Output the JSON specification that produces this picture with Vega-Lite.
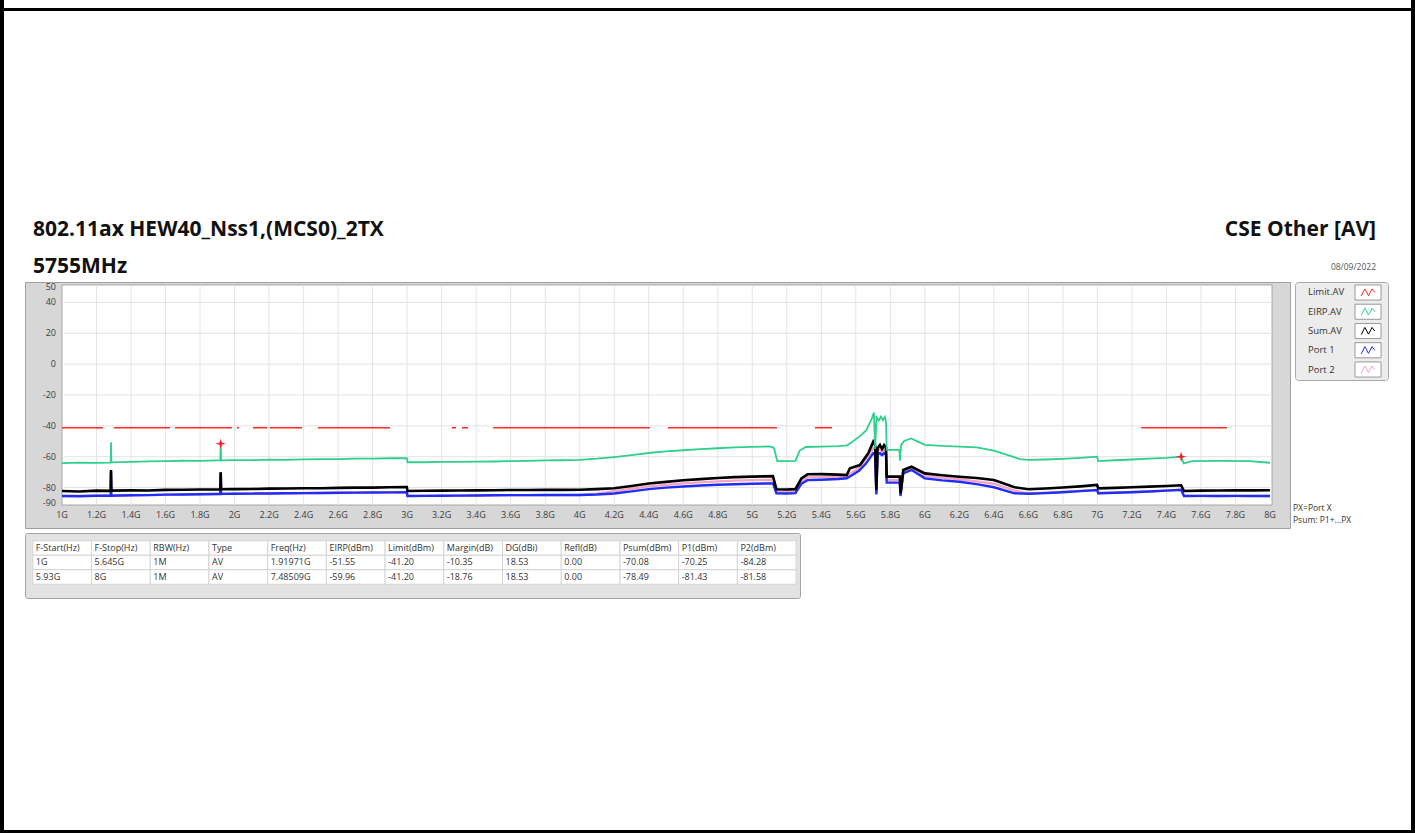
{
 "$schema": "https://vega.github.io/schema/vega-lite/v6.json",
 "background": "white",
 "padding": 0,
 "config": {
  "view": {"stroke": null},
  "font": "Open Sans",
  "axis": {"labelFont": "Open Sans", "labelFontSize": 9, "labelColor": "#3c3c3c", "tickColor": "#6e6e6e", "tickSize": 4, "grid": false, "domain": false, "labels": false},
  "title": {"font": "Open Sans", "color": "#111111"},
  "text": {"font": "Open Sans"}
 },
 "datasets": {
  "spec": [
   {"s":"Port 2","f":1.0,"v":-85.5},{"s":"Port 2","f":1.5,"v":-84.9},{"s":"Port 2","f":2.0,"v":-84.0},{"s":"Port 2","f":2.5,"v":-83.5},{"s":"Port 2","f":2.998,"v":-83.0},{"s":"Port 2","f":3.002,"v":-85.5},{"s":"Port 2","f":3.5,"v":-85.0},{"s":"Port 2","f":4.0,"v":-84.8},{"s":"Port 2","f":4.1,"v":-84.0},{"s":"Port 2","f":4.2,"v":-82.4},{"s":"Port 2","f":4.3,"v":-80.8},{"s":"Port 2","f":4.4,"v":-79.2},{"s":"Port 2","f":4.5,"v":-78.3},{"s":"Port 2","f":4.6,"v":-77.3},{"s":"Port 2","f":4.7,"v":-76.6},{"s":"Port 2","f":4.8,"v":-76.0},{"s":"Port 2","f":4.9,"v":-75.5},{"s":"Port 2","f":5.0,"v":-75.2},{"s":"Port 2","f":5.12,"v":-74.9},{"s":"Port 2","f":5.14,"v":-82.5},{"s":"Port 2","f":5.25,"v":-82.4},{"s":"Port 2","f":5.285,"v":-75.8},{"s":"Port 2","f":5.32,"v":-73.4},{"s":"Port 2","f":5.4,"v":-73.2},{"s":"Port 2","f":5.5,"v":-73.0},{"s":"Port 2","f":5.547,"v":-72.9},{"s":"Port 2","f":5.58,"v":-70.0},{"s":"Port 2","f":5.62,"v":-67.0},{"s":"Port 2","f":5.66,"v":-61.5},{"s":"Port 2","f":5.7,"v":-54.5},{"s":"Port 2","f":5.712,"v":-56.0},{"s":"Port 2","f":5.719,"v":-83.0},{"s":"Port 2","f":5.726,"v":-56.0},{"s":"Port 2","f":5.74,"v":-55.0},{"s":"Port 2","f":5.752,"v":-57.0},{"s":"Port 2","f":5.764,"v":-55.0},{"s":"Port 2","f":5.775,"v":-56.5},{"s":"Port 2","f":5.779,"v":-75.0},{"s":"Port 2","f":5.855,"v":-75.0},{"s":"Port 2","f":5.859,"v":-84.5},{"s":"Port 2","f":5.875,"v":-69.8},{"s":"Port 2","f":5.923,"v":-67.6},{"s":"Port 2","f":6.0,"v":-72.5},{"s":"Port 2","f":6.1,"v":-73.7},{"s":"Port 2","f":6.2,"v":-74.6},{"s":"Port 2","f":6.3,"v":-76.0},{"s":"Port 2","f":6.4,"v":-77.5},{"s":"Port 2","f":6.52,"v":-82.0},{"s":"Port 2","f":6.6,"v":-83.8},{"s":"Port 2","f":7.0,"v":-81.6},{"s":"Port 2","f":7.005,"v":-83.7},{"s":"Port 2","f":7.485,"v":-81.58},{"s":"Port 2","f":7.502,"v":-85.5},{"s":"Port 2","f":8.0,"v":-85.5},

   {"s":"Port 1","f":1.0,"v":-85.5},{"s":"Port 1","f":1.1,"v":-85.6},{"s":"Port 1","f":1.2,"v":-85.3},{"s":"Port 1","f":1.282,"v":-85.3},{"s":"Port 1","f":1.284,"v":-70.0},{"s":"Port 1","f":1.286,"v":-85.3},{"s":"Port 1","f":1.4,"v":-85.0},{"s":"Port 1","f":1.5,"v":-84.9},{"s":"Port 1","f":1.6,"v":-84.6},{"s":"Port 1","f":1.7,"v":-84.5},{"s":"Port 1","f":1.8,"v":-84.3},{"s":"Port 1","f":1.9,"v":-84.2},{"s":"Port 1","f":1.917,"v":-84.2},{"s":"Port 1","f":1.91971,"v":-70.25},{"s":"Port 1","f":1.922,"v":-84.1},{"s":"Port 1","f":2.0,"v":-84.0},{"s":"Port 1","f":2.1,"v":-83.9},{"s":"Port 1","f":2.2,"v":-83.8},{"s":"Port 1","f":2.3,"v":-83.7},{"s":"Port 1","f":2.4,"v":-83.6},{"s":"Port 1","f":2.5,"v":-83.5},{"s":"Port 1","f":2.6,"v":-83.4},{"s":"Port 1","f":2.7,"v":-83.3},{"s":"Port 1","f":2.8,"v":-83.2},{"s":"Port 1","f":2.9,"v":-83.1},{"s":"Port 1","f":2.998,"v":-83.0},{"s":"Port 1","f":3.002,"v":-85.5},{"s":"Port 1","f":3.1,"v":-85.4},{"s":"Port 1","f":3.2,"v":-85.3},{"s":"Port 1","f":3.3,"v":-85.2},{"s":"Port 1","f":3.4,"v":-85.1},{"s":"Port 1","f":3.5,"v":-85.0},{"s":"Port 1","f":3.6,"v":-84.9},{"s":"Port 1","f":3.7,"v":-84.9},{"s":"Port 1","f":3.8,"v":-84.8},{"s":"Port 1","f":3.9,"v":-84.8},{"s":"Port 1","f":4.0,"v":-84.8},{"s":"Port 1","f":4.1,"v":-84.5},{"s":"Port 1","f":4.2,"v":-83.8},{"s":"Port 1","f":4.3,"v":-82.5},{"s":"Port 1","f":4.4,"v":-81.0},{"s":"Port 1","f":4.5,"v":-80.0},{"s":"Port 1","f":4.6,"v":-79.3},{"s":"Port 1","f":4.7,"v":-78.7},{"s":"Port 1","f":4.8,"v":-78.2},{"s":"Port 1","f":4.9,"v":-77.8},{"s":"Port 1","f":5.0,"v":-77.5},{"s":"Port 1","f":5.12,"v":-77.3},{"s":"Port 1","f":5.14,"v":-83.7},{"s":"Port 1","f":5.2,"v":-83.8},{"s":"Port 1","f":5.25,"v":-83.6},{"s":"Port 1","f":5.285,"v":-77.5},{"s":"Port 1","f":5.32,"v":-75.2},{"s":"Port 1","f":5.4,"v":-74.9},{"s":"Port 1","f":5.5,"v":-74.4},{"s":"Port 1","f":5.547,"v":-74.0},{"s":"Port 1","f":5.58,"v":-71.9},{"s":"Port 1","f":5.62,"v":-69.0},{"s":"Port 1","f":5.66,"v":-64.3},{"s":"Port 1","f":5.7,"v":-57.8},{"s":"Port 1","f":5.712,"v":-59.0},{"s":"Port 1","f":5.719,"v":-84.5},{"s":"Port 1","f":5.726,"v":-58.0},{"s":"Port 1","f":5.74,"v":-57.8},{"s":"Port 1","f":5.752,"v":-59.0},{"s":"Port 1","f":5.764,"v":-57.8},{"s":"Port 1","f":5.775,"v":-58.5},{"s":"Port 1","f":5.779,"v":-76.8},{"s":"Port 1","f":5.82,"v":-76.8},{"s":"Port 1","f":5.855,"v":-76.8},{"s":"Port 1","f":5.859,"v":-85.5},{"s":"Port 1","f":5.875,"v":-70.8},{"s":"Port 1","f":5.923,"v":-68.6},{"s":"Port 1","f":6.0,"v":-74.0},{"s":"Port 1","f":6.1,"v":-75.3},{"s":"Port 1","f":6.2,"v":-76.2},{"s":"Port 1","f":6.3,"v":-77.8},{"s":"Port 1","f":6.4,"v":-79.8},{"s":"Port 1","f":6.52,"v":-83.7},{"s":"Port 1","f":6.6,"v":-84.0},{"s":"Port 1","f":6.7,"v":-83.6},{"s":"Port 1","f":6.8,"v":-83.0},{"s":"Port 1","f":6.9,"v":-82.3},{"s":"Port 1","f":6.998,"v":-81.6},{"s":"Port 1","f":7.005,"v":-83.7},{"s":"Port 1","f":7.1,"v":-83.4},{"s":"Port 1","f":7.2,"v":-83.0},{"s":"Port 1","f":7.3,"v":-82.5},{"s":"Port 1","f":7.4,"v":-82.0},{"s":"Port 1","f":7.485,"v":-81.43},{"s":"Port 1","f":7.502,"v":-85.5},{"s":"Port 1","f":7.6,"v":-85.4},{"s":"Port 1","f":7.7,"v":-85.5},{"s":"Port 1","f":7.8,"v":-85.4},{"s":"Port 1","f":7.9,"v":-85.5},{"s":"Port 1","f":8.0,"v":-85.5},

   {"s":"Sum.AV","f":1.0,"v":-82.2},{"s":"Sum.AV","f":1.1,"v":-82.5},{"s":"Sum.AV","f":1.2,"v":-82.0},{"s":"Sum.AV","f":1.282,"v":-82.1},{"s":"Sum.AV","f":1.284,"v":-68.6},{"s":"Sum.AV","f":1.286,"v":-82.0},{"s":"Sum.AV","f":1.4,"v":-81.8},{"s":"Sum.AV","f":1.5,"v":-81.9},{"s":"Sum.AV","f":1.6,"v":-81.5},{"s":"Sum.AV","f":1.7,"v":-81.4},{"s":"Sum.AV","f":1.8,"v":-81.2},{"s":"Sum.AV","f":1.9,"v":-81.2},{"s":"Sum.AV","f":1.917,"v":-81.2},{"s":"Sum.AV","f":1.91971,"v":-70.08},{"s":"Sum.AV","f":1.922,"v":-81.1},{"s":"Sum.AV","f":2.0,"v":-81.0},{"s":"Sum.AV","f":2.1,"v":-80.9},{"s":"Sum.AV","f":2.2,"v":-80.7},{"s":"Sum.AV","f":2.3,"v":-80.6},{"s":"Sum.AV","f":2.4,"v":-80.4},{"s":"Sum.AV","f":2.5,"v":-80.4},{"s":"Sum.AV","f":2.6,"v":-80.2},{"s":"Sum.AV","f":2.7,"v":-80.0},{"s":"Sum.AV","f":2.8,"v":-80.0},{"s":"Sum.AV","f":2.9,"v":-79.8},{"s":"Sum.AV","f":2.998,"v":-79.7},{"s":"Sum.AV","f":3.002,"v":-82.2},{"s":"Sum.AV","f":3.1,"v":-82.1},{"s":"Sum.AV","f":3.2,"v":-82.0},{"s":"Sum.AV","f":3.3,"v":-81.9},{"s":"Sum.AV","f":3.4,"v":-81.8},{"s":"Sum.AV","f":3.5,"v":-81.7},{"s":"Sum.AV","f":3.6,"v":-81.6},{"s":"Sum.AV","f":3.7,"v":-81.6},{"s":"Sum.AV","f":3.8,"v":-81.5},{"s":"Sum.AV","f":3.9,"v":-81.5},{"s":"Sum.AV","f":4.0,"v":-81.4},{"s":"Sum.AV","f":4.1,"v":-81.0},{"s":"Sum.AV","f":4.2,"v":-80.4},{"s":"Sum.AV","f":4.3,"v":-79.0},{"s":"Sum.AV","f":4.4,"v":-77.4},{"s":"Sum.AV","f":4.5,"v":-76.3},{"s":"Sum.AV","f":4.6,"v":-75.3},{"s":"Sum.AV","f":4.7,"v":-74.5},{"s":"Sum.AV","f":4.8,"v":-73.8},{"s":"Sum.AV","f":4.9,"v":-73.2},{"s":"Sum.AV","f":5.0,"v":-72.9},{"s":"Sum.AV","f":5.12,"v":-72.6},{"s":"Sum.AV","f":5.14,"v":-81.1},{"s":"Sum.AV","f":5.2,"v":-81.2},{"s":"Sum.AV","f":5.25,"v":-81.0},{"s":"Sum.AV","f":5.285,"v":-74.0},{"s":"Sum.AV","f":5.32,"v":-71.4},{"s":"Sum.AV","f":5.4,"v":-71.3},{"s":"Sum.AV","f":5.5,"v":-71.6},{"s":"Sum.AV","f":5.547,"v":-71.9},{"s":"Sum.AV","f":5.566,"v":-67.5},{"s":"Sum.AV","f":5.624,"v":-65.4},{"s":"Sum.AV","f":5.672,"v":-57.8},{"s":"Sum.AV","f":5.701,"v":-50.3},{"s":"Sum.AV","f":5.712,"v":-52.5},{"s":"Sum.AV","f":5.719,"v":-81.6},{"s":"Sum.AV","f":5.726,"v":-54.5},{"s":"Sum.AV","f":5.74,"v":-52.4},{"s":"Sum.AV","f":5.752,"v":-55.0},{"s":"Sum.AV","f":5.764,"v":-52.5},{"s":"Sum.AV","f":5.775,"v":-54.0},{"s":"Sum.AV","f":5.779,"v":-72.9},{"s":"Sum.AV","f":5.82,"v":-72.9},{"s":"Sum.AV","f":5.855,"v":-72.9},{"s":"Sum.AV","f":5.859,"v":-83.7},{"s":"Sum.AV","f":5.875,"v":-68.6},{"s":"Sum.AV","f":5.923,"v":-66.5},{"s":"Sum.AV","f":6.0,"v":-70.8},{"s":"Sum.AV","f":6.1,"v":-72.0},{"s":"Sum.AV","f":6.2,"v":-73.0},{"s":"Sum.AV","f":6.3,"v":-73.8},{"s":"Sum.AV","f":6.4,"v":-75.1},{"s":"Sum.AV","f":6.52,"v":-79.8},{"s":"Sum.AV","f":6.6,"v":-81.1},{"s":"Sum.AV","f":6.7,"v":-80.6},{"s":"Sum.AV","f":6.8,"v":-80.0},{"s":"Sum.AV","f":6.9,"v":-79.2},{"s":"Sum.AV","f":6.998,"v":-78.3},{"s":"Sum.AV","f":7.005,"v":-80.5},{"s":"Sum.AV","f":7.1,"v":-80.2},{"s":"Sum.AV","f":7.2,"v":-79.8},{"s":"Sum.AV","f":7.3,"v":-79.4},{"s":"Sum.AV","f":7.4,"v":-79.0},{"s":"Sum.AV","f":7.485,"v":-78.49},{"s":"Sum.AV","f":7.502,"v":-82.2},{"s":"Sum.AV","f":7.6,"v":-82.0},{"s":"Sum.AV","f":7.7,"v":-81.9},{"s":"Sum.AV","f":7.8,"v":-81.8},{"s":"Sum.AV","f":7.9,"v":-81.8},{"s":"Sum.AV","f":8.0,"v":-81.7},

   {"s":"EIRP.AV","f":1.0,"v":-64.1},{"s":"EIRP.AV","f":1.1,"v":-63.8},{"s":"EIRP.AV","f":1.2,"v":-64.0},{"s":"EIRP.AV","f":1.282,"v":-63.8},{"s":"EIRP.AV","f":1.284,"v":-50.6},{"s":"EIRP.AV","f":1.286,"v":-63.7},{"s":"EIRP.AV","f":1.4,"v":-63.3},{"s":"EIRP.AV","f":1.5,"v":-63.0},{"s":"EIRP.AV","f":1.6,"v":-62.9},{"s":"EIRP.AV","f":1.7,"v":-62.6},{"s":"EIRP.AV","f":1.8,"v":-62.7},{"s":"EIRP.AV","f":1.9,"v":-62.4},{"s":"EIRP.AV","f":1.917,"v":-62.4},{"s":"EIRP.AV","f":1.91971,"v":-51.55},{"s":"EIRP.AV","f":1.922,"v":-62.4},{"s":"EIRP.AV","f":2.0,"v":-62.2},{"s":"EIRP.AV","f":2.1,"v":-62.2},{"s":"EIRP.AV","f":2.2,"v":-61.9},{"s":"EIRP.AV","f":2.3,"v":-62.0},{"s":"EIRP.AV","f":2.4,"v":-61.7},{"s":"EIRP.AV","f":2.5,"v":-61.6},{"s":"EIRP.AV","f":2.6,"v":-61.6},{"s":"EIRP.AV","f":2.7,"v":-61.3},{"s":"EIRP.AV","f":2.8,"v":-61.3},{"s":"EIRP.AV","f":2.9,"v":-61.0},{"s":"EIRP.AV","f":2.998,"v":-60.9},{"s":"EIRP.AV","f":3.002,"v":-63.6},{"s":"EIRP.AV","f":3.1,"v":-63.6},{"s":"EIRP.AV","f":3.2,"v":-63.4},{"s":"EIRP.AV","f":3.3,"v":-63.4},{"s":"EIRP.AV","f":3.4,"v":-63.2},{"s":"EIRP.AV","f":3.5,"v":-63.1},{"s":"EIRP.AV","f":3.6,"v":-62.8},{"s":"EIRP.AV","f":3.7,"v":-62.7},{"s":"EIRP.AV","f":3.8,"v":-62.4},{"s":"EIRP.AV","f":3.9,"v":-62.3},{"s":"EIRP.AV","f":4.0,"v":-62.0},{"s":"EIRP.AV","f":4.1,"v":-61.3},{"s":"EIRP.AV","f":4.2,"v":-60.2},{"s":"EIRP.AV","f":4.3,"v":-58.9},{"s":"EIRP.AV","f":4.4,"v":-57.6},{"s":"EIRP.AV","f":4.5,"v":-56.6},{"s":"EIRP.AV","f":4.6,"v":-55.8},{"s":"EIRP.AV","f":4.7,"v":-55.1},{"s":"EIRP.AV","f":4.8,"v":-54.5},{"s":"EIRP.AV","f":4.9,"v":-54.0},{"s":"EIRP.AV","f":5.0,"v":-53.6},{"s":"EIRP.AV","f":5.1,"v":-53.3},{"s":"EIRP.AV","f":5.125,"v":-54.2},{"s":"EIRP.AV","f":5.145,"v":-62.8},{"s":"EIRP.AV","f":5.2,"v":-62.9},{"s":"EIRP.AV","f":5.25,"v":-62.7},{"s":"EIRP.AV","f":5.275,"v":-56.0},{"s":"EIRP.AV","f":5.31,"v":-53.7},{"s":"EIRP.AV","f":5.4,"v":-53.5},{"s":"EIRP.AV","f":5.5,"v":-53.2},{"s":"EIRP.AV","f":5.55,"v":-52.6},{"s":"EIRP.AV","f":5.58,"v":-50.3},{"s":"EIRP.AV","f":5.62,"v":-47.0},{"s":"EIRP.AV","f":5.66,"v":-43.0},{"s":"EIRP.AV","f":5.69,"v":-36.0},{"s":"EIRP.AV","f":5.705,"v":-31.4},{"s":"EIRP.AV","f":5.712,"v":-55.0},{"s":"EIRP.AV","f":5.72,"v":-34.5},{"s":"EIRP.AV","f":5.733,"v":-36.5},{"s":"EIRP.AV","f":5.745,"v":-34.0},{"s":"EIRP.AV","f":5.757,"v":-36.5},{"s":"EIRP.AV","f":5.768,"v":-34.2},{"s":"EIRP.AV","f":5.775,"v":-37.0},{"s":"EIRP.AV","f":5.779,"v":-55.6},{"s":"EIRP.AV","f":5.82,"v":-55.6},{"s":"EIRP.AV","f":5.852,"v":-55.5},{"s":"EIRP.AV","f":5.856,"v":-62.5},{"s":"EIRP.AV","f":5.862,"v":-52.5},{"s":"EIRP.AV","f":5.88,"v":-49.8},{"s":"EIRP.AV","f":5.92,"v":-48.1},{"s":"EIRP.AV","f":5.96,"v":-50.2},{"s":"EIRP.AV","f":6.0,"v":-52.3},{"s":"EIRP.AV","f":6.1,"v":-53.0},{"s":"EIRP.AV","f":6.2,"v":-53.4},{"s":"EIRP.AV","f":6.3,"v":-54.0},{"s":"EIRP.AV","f":6.4,"v":-56.1},{"s":"EIRP.AV","f":6.5,"v":-59.6},{"s":"EIRP.AV","f":6.55,"v":-61.5},{"s":"EIRP.AV","f":6.6,"v":-62.0},{"s":"EIRP.AV","f":6.7,"v":-61.8},{"s":"EIRP.AV","f":6.8,"v":-61.4},{"s":"EIRP.AV","f":6.9,"v":-60.8},{"s":"EIRP.AV","f":6.998,"v":-60.0},{"s":"EIRP.AV","f":7.005,"v":-62.8},{"s":"EIRP.AV","f":7.1,"v":-62.3},{"s":"EIRP.AV","f":7.2,"v":-61.8},{"s":"EIRP.AV","f":7.3,"v":-61.3},{"s":"EIRP.AV","f":7.4,"v":-60.8},{"s":"EIRP.AV","f":7.485,"v":-59.96},{"s":"EIRP.AV","f":7.5,"v":-64.3},{"s":"EIRP.AV","f":7.55,"v":-62.9},{"s":"EIRP.AV","f":7.7,"v":-62.7},{"s":"EIRP.AV","f":7.88,"v":-62.8},{"s":"EIRP.AV","f":8.0,"v":-63.9}
  ],
  "lim": [
   {"seg":1,"f":1.0,"v":-41.2},{"seg":1,"f":1.238,"v":-41.2},
   {"seg":2,"f":1.301,"v":-41.2},{"seg":2,"f":1.626,"v":-41.2},
   {"seg":3,"f":1.655,"v":-41.2},{"seg":3,"f":1.985,"v":-41.2},
   {"seg":4,"f":2.014,"v":-41.2},{"seg":4,"f":2.026,"v":-41.2},
   {"seg":5,"f":2.107,"v":-41.2},{"seg":5,"f":2.188,"v":-41.2},
   {"seg":6,"f":2.205,"v":-41.2},{"seg":6,"f":2.391,"v":-41.2},
   {"seg":7,"f":2.483,"v":-41.2},{"seg":7,"f":2.901,"v":-41.2},
   {"seg":8,"f":3.26,"v":-41.2},{"seg":8,"f":3.283,"v":-41.2},
   {"seg":9,"f":3.318,"v":-41.2},{"seg":9,"f":3.353,"v":-41.2},
   {"seg":10,"f":3.498,"v":-41.2},{"seg":10,"f":4.407,"v":-41.2},
   {"seg":11,"f":4.512,"v":-41.2},{"seg":11,"f":5.143,"v":-41.2},
   {"seg":12,"f":5.363,"v":-41.2},{"seg":12,"f":5.462,"v":-41.2},
   {"seg":13,"f":7.253,"v":-41.2},{"seg":13,"f":7.751,"v":-41.2}
  ],
  "mk": [{"f":1.91971,"v":-51.55},{"f":7.48509,"v":-59.96}],
  "gx": [{"g":1.2},{"g":1.4},{"g":1.6},{"g":1.8},{"g":2},{"g":2.2},{"g":2.4},{"g":2.6},{"g":2.8},{"g":3},{"g":3.2},{"g":3.4},{"g":3.6},{"g":3.8},{"g":4},{"g":4.2},{"g":4.4},{"g":4.6},{"g":4.8},{"g":5},{"g":5.2},{"g":5.4},{"g":5.6},{"g":5.8},{"g":6},{"g":6.2},{"g":6.4},{"g":6.6},{"g":6.8},{"g":7},{"g":7.2},{"g":7.4},{"g":7.6},{"g":7.8}],
  "gy": [{"g":40},{"g":20},{"g":0},{"g":-20},{"g":-40},{"g":-60},{"g":-80}],
  "xl": [{"g":1,"l":"1G"},{"g":1.2,"l":"1.2G"},{"g":1.4,"l":"1.4G"},{"g":1.6,"l":"1.6G"},{"g":1.8,"l":"1.8G"},{"g":2,"l":"2G"},{"g":2.2,"l":"2.2G"},{"g":2.4,"l":"2.4G"},{"g":2.6,"l":"2.6G"},{"g":2.8,"l":"2.8G"},{"g":3,"l":"3G"},{"g":3.2,"l":"3.2G"},{"g":3.4,"l":"3.4G"},{"g":3.6,"l":"3.6G"},{"g":3.8,"l":"3.8G"},{"g":4,"l":"4G"},{"g":4.2,"l":"4.2G"},{"g":4.4,"l":"4.4G"},{"g":4.6,"l":"4.6G"},{"g":4.8,"l":"4.8G"},{"g":5,"l":"5G"},{"g":5.2,"l":"5.2G"},{"g":5.4,"l":"5.4G"},{"g":5.6,"l":"5.6G"},{"g":5.8,"l":"5.8G"},{"g":6,"l":"6G"},{"g":6.2,"l":"6.2G"},{"g":6.4,"l":"6.4G"},{"g":6.6,"l":"6.6G"},{"g":6.8,"l":"6.8G"},{"g":7,"l":"7G"},{"g":7.2,"l":"7.2G"},{"g":7.4,"l":"7.4G"},{"g":7.6,"l":"7.6G"},{"g":7.8,"l":"7.8G"},{"g":8,"l":"8G"}],
  "yl": [{"g":50,"l":"50"},{"g":40,"l":"40"},{"g":20,"l":"20"},{"g":0,"l":"0"},{"g":-20,"l":"-20"},{"g":-40,"l":"-40"},{"g":-60,"l":"-60"},{"g":-80,"l":"-80"},{"g":-90,"l":"-90"}],
  "leg": [{"name":"Limit.AV"},{"name":"EIRP.AV"},{"name":"Sum.AV"},{"name":"Port 1"},{"name":"Port 2"}],
  "foot": [{"t":"PX=Port X"},{"t":"Psum: P1+...PX"}],
  "tbl": [
   {"r":0,"c":1,"t":"F-Start(Hz)"},{"r":0,"c":2,"t":"F-Stop(Hz)"},{"r":0,"c":3,"t":"RBW(Hz)"},{"r":0,"c":4,"t":"Type"},{"r":0,"c":5,"t":"Freq(Hz)"},{"r":0,"c":6,"t":"EIRP(dBm)"},{"r":0,"c":7,"t":"Limit(dBm)"},{"r":0,"c":8,"t":"Margin(dB)"},{"r":0,"c":9,"t":"DG(dBi)"},{"r":0,"c":10,"t":"Refl(dB)"},{"r":0,"c":11,"t":"Psum(dBm)"},{"r":0,"c":12,"t":"P1(dBm)"},{"r":0,"c":13,"t":"P2(dBm)"},
   {"r":1,"c":1,"t":"1G"},{"r":1,"c":2,"t":"5.645G"},{"r":1,"c":3,"t":"1M"},{"r":1,"c":4,"t":"AV"},{"r":1,"c":5,"t":"1.91971G"},{"r":1,"c":6,"t":"-51.55"},{"r":1,"c":7,"t":"-41.20"},{"r":1,"c":8,"t":"-10.35"},{"r":1,"c":9,"t":"18.53"},{"r":1,"c":10,"t":"0.00"},{"r":1,"c":11,"t":"-70.08"},{"r":1,"c":12,"t":"-70.25"},{"r":1,"c":13,"t":"-84.28"},
   {"r":2,"c":1,"t":"5.93G"},{"r":2,"c":2,"t":"8G"},{"r":2,"c":3,"t":"1M"},{"r":2,"c":4,"t":"AV"},{"r":2,"c":5,"t":"7.48509G"},{"r":2,"c":6,"t":"-59.96"},{"r":2,"c":7,"t":"-41.20"},{"r":2,"c":8,"t":"-18.76"},{"r":2,"c":9,"t":"18.53"},{"r":2,"c":10,"t":"0.00"},{"r":2,"c":11,"t":"-78.49"},{"r":2,"c":12,"t":"-81.43"},{"r":2,"c":13,"t":"-81.58"}
  ]
 },
 "bounds": "full",
 "spacing": 0,
 "hconcat": [
  {"width": 4, "height": 833, "view": {"fill": "black"}, "data": {"values": []}, "mark": "point"},
  {"bounds": "full", "spacing": 0, "vconcat": [
    {"width": 1407, "height": 8, "data": {"values": []}, "mark": "point"},
    {"width": 1407, "height": 3, "view": {"fill": "black"}, "data": {"values": []}, "mark": "point"},
    {"width": 1407, "height": 207, "data": {"values": []}, "mark": "point"},
    {"bounds": "flush", "spacing": 0, "hconcat": [
      {"width": 21, "height": 246, "data": {"values": []}, "mark": "point"},
      {"width": 1265, "height": 246,
       "view": {"fill": "#d7d7d7", "stroke": "#a0a0a0"},
       "title": {"text": ["802.11ax HEW40_Nss1,(MCS0)_2TX", "5755MHz"], "anchor": "start", "frame": "group", "fontSize": 21, "fontWeight": "bold", "lineHeight": 37, "offset": 5, "dx": 8},
       "layer": [
        {"data": {"values": [{}]}, "mark": {"type": "rect", "fill": "white", "stroke": "#a6a6a6", "strokeWidth": 1},
         "encoding": {
          "x": {"datum": 1, "type": "quantitative", "title": null, "scale": {"domain": [0.7856, 8.116], "nice": false, "zero": false},
                "axis": {"title": null, "values": [1,1.2,1.4,1.6,1.8,2,2.2,2.4,2.6,2.8,3,3.2,3.4,3.6,3.8,4,4.2,4.4,4.6,4.8,5,5.2,5.4,5.6,5.8,6,6.2,6.4,6.6,6.8,7,7.2,7.4,7.6,7.8,8], "labels": false, "offset": -23}},
          "x2": {"datum": 8.012},
          "y": {"datum": -91.3, "type": "quantitative", "title": null, "scale": {"domain": [-106.2, 53.24], "nice": false, "zero": false},
                "axis": {"title": null, "values": [50,40,20,0,-20,-40,-60,-80,-90], "labels": false, "offset": -37}},
          "y2": {"datum": 51.3}}},
        {"data": {"name": "gx"}, "mark": {"type": "rule", "color": "#e4e4e4", "strokeWidth": 1},
         "encoding": {"x": {"field": "g", "type": "quantitative", "axis": null}, "y": {"datum": -91.3, "type": "quantitative", "axis": null}, "y2": {"datum": 51.3}}},
        {"data": {"name": "gy"}, "mark": {"type": "rule", "color": "#e4e4e4", "strokeWidth": 1},
         "encoding": {"y": {"field": "g", "type": "quantitative", "axis": null}, "x": {"datum": 1, "type": "quantitative", "axis": null}, "x2": {"datum": 8.012}}},
        {"data": {"name": "xl"}, "mark": {"type": "text", "baseline": "top", "align": "center", "dy": 6, "fontSize": 9, "color": "#3c3c3c"},
         "encoding": {"x": {"field": "g", "type": "quantitative", "axis": null}, "y": {"datum": -91.3, "type": "quantitative", "axis": null}, "text": {"field": "l"}}},
        {"data": {"name": "yl"}, "mark": {"type": "text", "baseline": "middle", "align": "right", "dx": -6, "fontSize": 9, "color": "#3c3c3c"},
         "encoding": {"y": {"field": "g", "type": "quantitative", "axis": null}, "x": {"datum": 1, "type": "quantitative", "axis": null}, "text": {"field": "l"}}},
        {"data": {"name": "spec"}, "transform": [{"filter": "datum.s === 'Port 2'"}], "mark": {"type": "line", "color": "#f5a3c4", "strokeWidth": 2.4},
         "encoding": {"x": {"field": "f", "type": "quantitative", "axis": null}, "y": {"field": "v", "type": "quantitative", "axis": null}}},
        {"data": {"name": "spec"}, "transform": [{"filter": "datum.s === 'Port 1'"}], "mark": {"type": "line", "color": "#1f2ef5", "strokeWidth": 2.4},
         "encoding": {"x": {"field": "f", "type": "quantitative", "axis": null}, "y": {"field": "v", "type": "quantitative", "axis": null}}},
        {"data": {"name": "spec"}, "transform": [{"filter": "datum.s === 'Sum.AV'"}], "mark": {"type": "line", "color": "#000000", "strokeWidth": 2.6},
         "encoding": {"x": {"field": "f", "type": "quantitative", "axis": null}, "y": {"field": "v", "type": "quantitative", "axis": null}}},
        {"data": {"name": "spec"}, "transform": [{"filter": "datum.s === 'EIRP.AV'"}], "mark": {"type": "line", "color": "#2fcf8e", "strokeWidth": 1.8},
         "encoding": {"x": {"field": "f", "type": "quantitative", "axis": null}, "y": {"field": "v", "type": "quantitative", "axis": null}}},
        {"data": {"name": "lim"}, "mark": {"type": "line", "color": "#ff2b2b", "strokeWidth": 1.6},
         "encoding": {"x": {"field": "f", "type": "quantitative", "axis": null}, "y": {"field": "v", "type": "quantitative", "axis": null}, "detail": {"field": "seg", "type": "nominal"}}},
        {"data": {"name": "mk"}, "mark": {"type": "point", "shape": "M0,-1L0.22,-0.22L1,0L0.22,0.22L0,1L-0.22,0.22L-1,0L-0.22,-0.22Z", "size": 110, "filled": true, "color": "#ff2222", "opacity": 1},
         "encoding": {"x": {"field": "f", "type": "quantitative", "axis": null}, "y": {"field": "v", "type": "quantitative", "axis": null}}}
       ]
      },
      {"width": 5, "height": 246, "data": {"values": []}, "mark": "point"},
      {"bounds": "flush", "spacing": 0, "vconcat": [
        {"width": 93, "height": 98,
         "view": {"fill": "#ececec", "stroke": "#a9a9a9", "cornerRadius": 3},
         "title": {"text": "CSE Other [AV]", "subtitle": "08/09/2022", "anchor": "end", "frame": "group", "fontSize": 21, "fontWeight": "bold", "subtitleFont": "Open Sans", "subtitleFontSize": 8.5, "subtitleColor": "#555555", "subtitlePadding": 23, "offset": 11, "dx": -12},
         "data": {"name": "leg"},
         "encoding": {"y": {"field": "name", "type": "nominal", "scale": {"type": "point", "domain": ["Limit.AV","EIRP.AV","Sum.AV","Port 1","Port 2"], "padding": 0.545, "align": 0.5}, "axis": null}},
         "layer": [
          {"mark": {"type": "text", "align": "left", "baseline": "middle", "fontSize": 9.5, "color": "#333333"},
           "encoding": {"x": {"datum": "label", "type": "nominal", "scale": {"type": "point", "domain": ["label","swatch"], "padding": 0.275, "align": 0.394}, "axis": null}, "text": {"field": "name"}}},
          {"mark": {"type": "point", "shape": "M-1,-0.58L1,-0.58L1,0.58L-1,0.58Z", "size": 676, "filled": true, "fill": "white", "stroke": "#9a9a9a", "strokeWidth": 1, "opacity": 1},
           "encoding": {"x": {"datum": "swatch", "type": "nominal"}}},
          {"mark": {"type": "point", "shape": "M-0.75,0.4L-0.35,-0.4L0.05,0.35L0.45,-0.4L0.75,0", "size": 324, "filled": false, "strokeWidth": 1, "opacity": 1},
           "encoding": {"x": {"datum": "swatch", "type": "nominal"}, "color": {"field": "name", "type": "nominal", "scale": {"domain": ["Limit.AV","EIRP.AV","Sum.AV","Port 1","Port 2"], "range": ["#ff2b2b","#2fcf8e","#000000","#1f2ef5","#f5a3c4"]}, "legend": null}}}
         ]
        },
        {"width": 93, "height": 122, "data": {"values": []}, "mark": "point"},
        {"width": 93, "height": 24, "data": {"name": "foot"},
         "mark": {"type": "text", "align": "left", "baseline": "middle", "fontSize": 8.5, "color": "#333333", "dx": -2},
         "encoding": {"y": {"field": "t", "type": "nominal", "sort": null, "scale": {"type": "point", "padding": 0.5}, "axis": null}, "x": {"datum": 0, "type": "quantitative", "scale": {"domain": [0, 1]}, "axis": null}, "text": {"field": "t"}}}
      ]}
    ]},
    {"width": 1407, "height": 3, "data": {"values": []}, "mark": "point"},
    {"bounds": "flush", "spacing": 0, "hconcat": [
      {"width": 21, "height": 65, "data": {"values": []}, "mark": "point"},
      {"width": 775, "height": 65,
       "view": {"fill": "#e2e2e2", "stroke": "#a5a5a5", "cornerRadius": 2},
       "data": {"name": "tbl"},
       "encoding": {
        "x": {"field": "c", "type": "ordinal", "scale": {"type": "band", "domain": [1,2,3,4,5,6,7,8,9,10,11,12,13], "paddingInner": 0, "paddingOuter": 0.1, "align": 0.667}, "axis": null},
        "y": {"field": "r", "type": "ordinal", "scale": {"type": "band", "domain": [0,1,2], "paddingInner": 0, "paddingOuter": 0.74, "align": 0.36}, "axis": null}},
       "layer": [
        {"mark": {"type": "rect", "fill": "white", "stroke": "#d4d4d4", "strokeWidth": 1}},
        {"mark": {"type": "text", "align": "left", "baseline": "middle", "fontSize": 9, "color": "#333333", "dx": 3},
         "encoding": {"x": {"field": "c", "type": "ordinal", "bandPosition": 0}, "text": {"field": "t"}}}
       ]
      }
    ]},
    {"width": 1407, "height": 231, "data": {"values": []}, "mark": "point"},
    {"width": 1407, "height": 4, "view": {"fill": "black"}, "data": {"values": []}, "mark": "point"}
  ]},
  {"width": 4, "height": 833, "view": {"fill": "black"}, "data": {"values": []}, "mark": "point"}
 ]
}
